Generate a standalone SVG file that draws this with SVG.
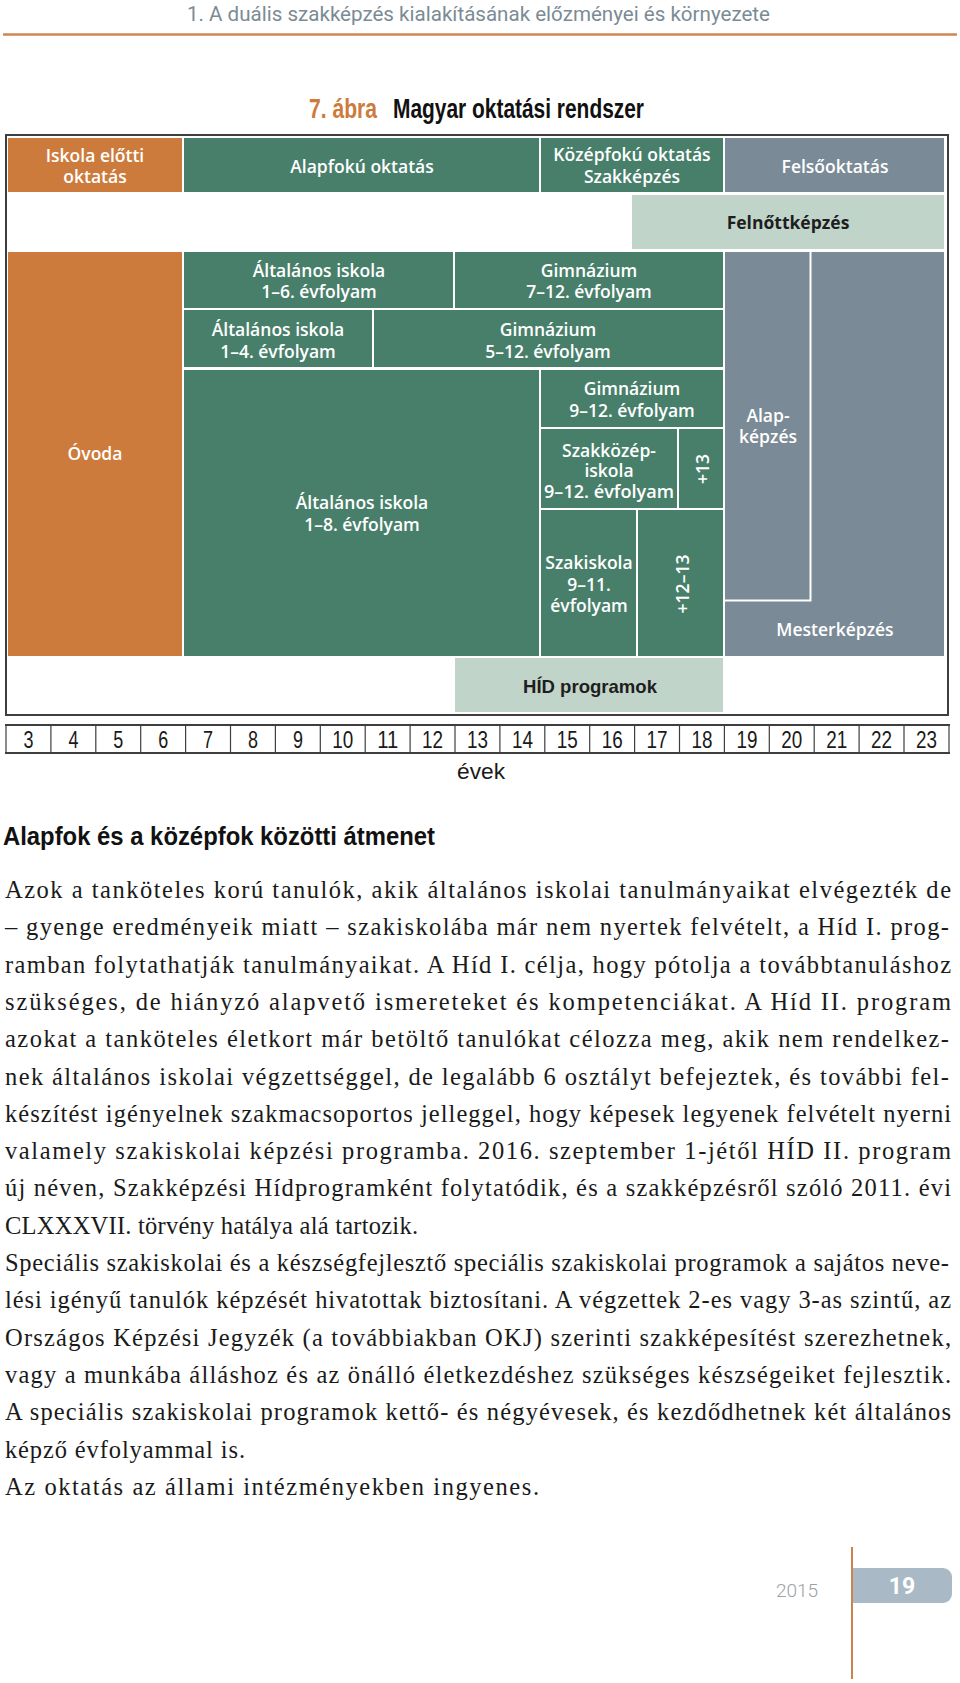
<svg xmlns="http://www.w3.org/2000/svg" width="960" height="1683" viewBox="0 0 960 1683">
<style>
.or{fill:#CD7B3C}
.gr{fill:#487F6B}
.gy{fill:#7A8A96}
.lt{fill:#C1D4CA}
.lb{font-family:"Open Sans","Noto Sans",sans-serif;font-weight:600;font-size:17.5px;fill:#ffffff;text-anchor:middle}
.yr{font-family:"Liberation Sans",Arial,sans-serif;font-size:23px;fill:#1a1a1a;text-anchor:middle}
.p{font-family:"Liberation Serif","Times New Roman",serif;font-size:24.5px;fill:#1a1a1a}
.cd{font-family:"Liberation Sans",Arial,sans-serif;font-weight:bold}
</style>
<rect width="960" height="1683" fill="#ffffff"/>

<g id="page-header">
<text x="187" y="21" font-family="Roboto,sans-serif" font-size="19.5" fill="#7B8B95" textLength="583" lengthAdjust="spacingAndGlyphs">1. A duális szakképzés kialakításának előzményei és környezete</text>
<line x1="3" y1="34.5" x2="957" y2="34.5" stroke="#CC8753" stroke-width="2.5"/>
</g>

<g id="title">
<text x="309" y="118" class="cd" font-size="27" fill="#CD7B3C" textLength="68" lengthAdjust="spacingAndGlyphs">7. ábra</text>
<text x="393" y="118" class="cd" font-size="27" fill="#111111" textLength="251" lengthAdjust="spacingAndGlyphs">Magyar oktatási rendszer</text>
</g>

<g id="frame">
<rect x="6" y="135" width="942" height="580" fill="none" stroke="#3e3e3e" stroke-width="2"/>
</g>

<g id="iskola-elotti">
<rect class="or" x="8" y="138" width="174" height="54"/>
<text class="lb" x="95" y="162">Iskola előtti</text>
<text class="lb" x="95" y="183">oktatás</text>
</g>
<g id="alapfoku">
<rect class="gr" x="184" y="138" width="355" height="54"/>
<text class="lb" x="362" y="173">Alapfokú oktatás</text>
</g>
<g id="kozepfoku">
<rect class="gr" x="541" y="138" width="182" height="54"/>
<text class="lb" x="632" y="161">Középfokú oktatás</text>
<text class="lb" x="632" y="183">Szakképzés</text>
</g>
<g id="felsooktatas">
<rect class="gy" x="725" y="138" width="219" height="54"/>
<text class="lb" x="835" y="173">Felsőoktatás</text>
</g>
<g id="felnottkepzes">
<rect class="lt" x="632" y="195" width="312" height="54"/>
<text class="lb" x="788" y="229" style="fill:#1e1e1e;font-weight:700">Felnőttképzés</text>
</g>

<g id="ovoda">
<rect class="or" x="8" y="252" width="174" height="404"/>
<text class="lb" x="95" y="460">Óvoda</text>
</g>
<g id="altalanos-1-6">
<rect class="gr" x="184" y="252" width="269" height="56"/>
<text class="lb" x="319" y="277">Általános iskola</text>
<text class="lb" x="319" y="298">1–6. évfolyam</text>
</g>
<g id="gimnazium-7-12">
<rect class="gr" x="455" y="252" width="268" height="56"/>
<text class="lb" x="589" y="277">Gimnázium</text>
<text class="lb" x="589" y="298">7–12. évfolyam</text>
</g>
<g id="altalanos-1-4">
<rect class="gr" x="184" y="310" width="188" height="57"/>
<text class="lb" x="278" y="336">Általános iskola</text>
<text class="lb" x="278" y="358">1–4. évfolyam</text>
</g>
<g id="gimnazium-5-12">
<rect class="gr" x="374" y="310" width="349" height="57"/>
<text class="lb" x="548" y="336">Gimnázium</text>
<text class="lb" x="548" y="358">5–12. évfolyam</text>
</g>
<g id="altalanos-1-8">
<rect class="gr" x="184" y="370" width="355" height="286"/>
<text class="lb" x="362" y="509">Általános iskola</text>
<text class="lb" x="362" y="531">1–8. évfolyam</text>
</g>
<g id="gimnazium-9-12">
<rect class="gr" x="541" y="370" width="182" height="57"/>
<text class="lb" x="632" y="395">Gimnázium</text>
<text class="lb" x="632" y="417">9–12. évfolyam</text>
</g>
<g id="szakkozepiskola">
<rect class="gr" x="541" y="429" width="136" height="79"/>
<text class="lb" x="609" y="457">Szakközép-</text>
<text class="lb" x="609" y="477">iskola</text>
<text class="lb" x="609" y="498" textLength="130" lengthAdjust="spacingAndGlyphs">9–12. évfolyam</text>
</g>
<g id="plus13">
<rect class="gr" x="679" y="429" width="44" height="79"/>
<text class="lb" x="0" y="0" dominant-baseline="central" transform="translate(702,469) rotate(-90)">+13</text>
</g>
<g id="szakiskola">
<rect class="gr" x="541" y="510" width="95" height="146"/>
<text class="lb" x="589" y="569">Szakiskola</text>
<text class="lb" x="589" y="591">9–11.</text>
<text class="lb" x="589" y="612">évfolyam</text>
</g>
<g id="plus12-13">
<rect class="gr" x="638" y="510" width="85" height="146"/>
<text class="lb" x="0" y="0" dominant-baseline="central" transform="translate(682,584) rotate(-90)">+12–13</text>
</g>
<g id="mesterkepzes">
<path class="gy" d="M811.5 252H944V656H725V601.5H811.5Z"/>
<text class="lb" x="835" y="636">Mesterképzés</text>
</g>
<g id="alapkepzes">
<rect class="gy" x="725" y="252" width="84.5" height="347.5"/>
<text class="lb" x="768" y="422">Alap-</text>
<text class="lb" x="768" y="443">képzés</text>
</g>
<g id="hid-programok">
<rect class="lt" x="455" y="658" width="268" height="54"/>
<text x="590" y="693" class="cd" font-size="19" fill="#1e1e1e" text-anchor="middle" textLength="134" lengthAdjust="spacingAndGlyphs">HÍD programok</text>
</g>

<g id="age-axis">
<g stroke="#3e3e3e" stroke-width="1.2">
<line x1="50.9" y1="725" x2="50.9" y2="753"/><line x1="95.8" y1="725" x2="95.8" y2="753"/><line x1="140.7" y1="725" x2="140.7" y2="753"/><line x1="185.6" y1="725" x2="185.6" y2="753"/><line x1="230.5" y1="725" x2="230.5" y2="753"/><line x1="275.4" y1="725" x2="275.4" y2="753"/><line x1="320.3" y1="725" x2="320.3" y2="753"/><line x1="365.2" y1="725" x2="365.2" y2="753"/><line x1="410.1" y1="725" x2="410.1" y2="753"/><line x1="455" y1="725" x2="455" y2="753"/><line x1="499.9" y1="725" x2="499.9" y2="753"/><line x1="544.8" y1="725" x2="544.8" y2="753"/><line x1="589.7" y1="725" x2="589.7" y2="753"/><line x1="634.6" y1="725" x2="634.6" y2="753"/><line x1="679.5" y1="725" x2="679.5" y2="753"/><line x1="724.4" y1="725" x2="724.4" y2="753"/><line x1="769.3" y1="725" x2="769.3" y2="753"/><line x1="814.2" y1="725" x2="814.2" y2="753"/><line x1="859.1" y1="725" x2="859.1" y2="753"/><line x1="904" y1="725" x2="904" y2="753"/>
<line x1="6" y1="725" x2="6" y2="753"/><line x1="949" y1="725" x2="949" y2="753"/>
</g>
<line x1="5" y1="725" x2="950" y2="725" stroke="#3e3e3e" stroke-width="2"/>
<line x1="5" y1="753" x2="950" y2="753" stroke="#3e3e3e" stroke-width="2"/>
<text class="yr" x="28.5" y="748" textLength="10" lengthAdjust="spacingAndGlyphs">3</text>
<text class="yr" x="73.4" y="748" textLength="10" lengthAdjust="spacingAndGlyphs">4</text>
<text class="yr" x="118.3" y="748" textLength="10" lengthAdjust="spacingAndGlyphs">5</text>
<text class="yr" x="163.2" y="748" textLength="10" lengthAdjust="spacingAndGlyphs">6</text>
<text class="yr" x="208.1" y="748" textLength="10" lengthAdjust="spacingAndGlyphs">7</text>
<text class="yr" x="253" y="748" textLength="10" lengthAdjust="spacingAndGlyphs">8</text>
<text class="yr" x="297.9" y="748" textLength="10" lengthAdjust="spacingAndGlyphs">9</text>
<text class="yr" x="342.8" y="748" textLength="21" lengthAdjust="spacingAndGlyphs">10</text>
<text class="yr" x="387.7" y="748" textLength="21" lengthAdjust="spacingAndGlyphs">11</text>
<text class="yr" x="432.6" y="748" textLength="21" lengthAdjust="spacingAndGlyphs">12</text>
<text class="yr" x="477.5" y="748" textLength="21" lengthAdjust="spacingAndGlyphs">13</text>
<text class="yr" x="522.4" y="748" textLength="21" lengthAdjust="spacingAndGlyphs">14</text>
<text class="yr" x="567.3" y="748" textLength="21" lengthAdjust="spacingAndGlyphs">15</text>
<text class="yr" x="612.2" y="748" textLength="21" lengthAdjust="spacingAndGlyphs">16</text>
<text class="yr" x="657.1" y="748" textLength="21" lengthAdjust="spacingAndGlyphs">17</text>
<text class="yr" x="702" y="748" textLength="21" lengthAdjust="spacingAndGlyphs">18</text>
<text class="yr" x="746.9" y="748" textLength="21" lengthAdjust="spacingAndGlyphs">19</text>
<text class="yr" x="791.8" y="748" textLength="21" lengthAdjust="spacingAndGlyphs">20</text>
<text class="yr" x="836.7" y="748" textLength="21" lengthAdjust="spacingAndGlyphs">21</text>
<text class="yr" x="881.6" y="748" textLength="21" lengthAdjust="spacingAndGlyphs">22</text>
<text class="yr" x="926.5" y="748" textLength="21" lengthAdjust="spacingAndGlyphs">23</text>
<text class="yr" x="481" y="779" style="font-size:22px" textLength="48" lengthAdjust="spacingAndGlyphs">évek</text>
</g>

<g id="body-text">
<text x="3" y="845" class="cd" font-size="26" fill="#111111" textLength="432" lengthAdjust="spacingAndGlyphs">Alapfok és a középfok közötti átmenet</text>
<text class="p" x="5" y="898" textLength="946" lengthAdjust="spacing">Azok a tanköteles korú tanulók, akik általános iskolai tanulmányaikat elvégezték de</text>
<text class="p" x="5" y="935.3" textLength="944" lengthAdjust="spacing">– gyenge eredményeik miatt – szakiskolába már nem nyertek felvételt, a Híd I. prog-</text>
<text class="p" x="5" y="972.6" textLength="946" lengthAdjust="spacing">ramban folytathatják tanulmányaikat. A Híd I. célja, hogy pótolja a továbbtanuláshoz</text>
<text class="p" x="5" y="1009.9" textLength="946" lengthAdjust="spacing">szükséges, de hiányzó alapvető ismereteket és kompetenciákat. A Híd II. program</text>
<text class="p" x="5" y="1047.2" textLength="944" lengthAdjust="spacing">azokat a tanköteles életkort már betöltő tanulókat célozza meg, akik nem rendelkez-</text>
<text class="p" x="5" y="1084.5" textLength="944" lengthAdjust="spacing">nek általános iskolai végzettséggel, de legalább 6 osztályt befejeztek, és további fel-</text>
<text class="p" x="5" y="1121.8" textLength="946" lengthAdjust="spacing">készítést igényelnek szakmacsoportos jelleggel, hogy képesek legyenek felvételt nyerni</text>
<text class="p" x="5" y="1159.1" textLength="946" lengthAdjust="spacing">valamely szakiskolai képzési programba. 2016. szeptember 1-jétől HÍD II. program</text>
<text class="p" x="5" y="1196.4" textLength="946" lengthAdjust="spacing">új néven, Szakképzési Hídprogramként folytatódik, és a szakképzésről szóló 2011. évi</text>
<text class="p" x="5" y="1233.7" textLength="413" lengthAdjust="spacing">CLXXXVII. törvény hatálya alá tartozik.</text>
<text class="p" x="5" y="1271" textLength="944" lengthAdjust="spacing">Speciális szakiskolai és a készségfejlesztő speciális szakiskolai programok a sajátos neve-</text>
<text class="p" x="5" y="1308.3" textLength="946" lengthAdjust="spacing">lési igényű tanulók képzését hivatottak biztosítani. A végzettek 2-es vagy 3-as szintű, az</text>
<text class="p" x="5" y="1345.6" textLength="946" lengthAdjust="spacing">Országos Képzési Jegyzék (a továbbiakban OKJ) szerinti szakképesítést szerezhetnek,</text>
<text class="p" x="5" y="1382.9" textLength="946" lengthAdjust="spacing">vagy a munkába álláshoz és az önálló életkezdéshez szükséges készségeiket fejlesztik.</text>
<text class="p" x="5" y="1420.2" textLength="946" lengthAdjust="spacing">A speciális szakiskolai programok kettő- és négyévesek, és kezdődhetnek két általános</text>
<text class="p" x="5" y="1457.5" textLength="240" lengthAdjust="spacing">képző évfolyammal is.</text>
<text class="p" x="5" y="1494.8" textLength="534" lengthAdjust="spacing">Az oktatás az állami intézményekben ingyenes.</text>
</g>

<g id="page-footer">
<line x1="852" y1="1547" x2="852" y2="1679" stroke="#C9844F" stroke-width="2"/>
<path d="M853 1568H943A9 9 0 0 1 952 1577V1594A9 9 0 0 1 943 1603H853Z" fill="#A9BAC6"/>
<text x="902" y="1594" font-family="Roboto,sans-serif" font-weight="bold" font-size="23" fill="#ffffff" text-anchor="middle">19</text>
<text x="797" y="1597" font-family="Roboto,sans-serif" font-weight="300" font-size="19" fill="#9AA0A4" text-anchor="middle">2015</text>
</g>
</svg>
